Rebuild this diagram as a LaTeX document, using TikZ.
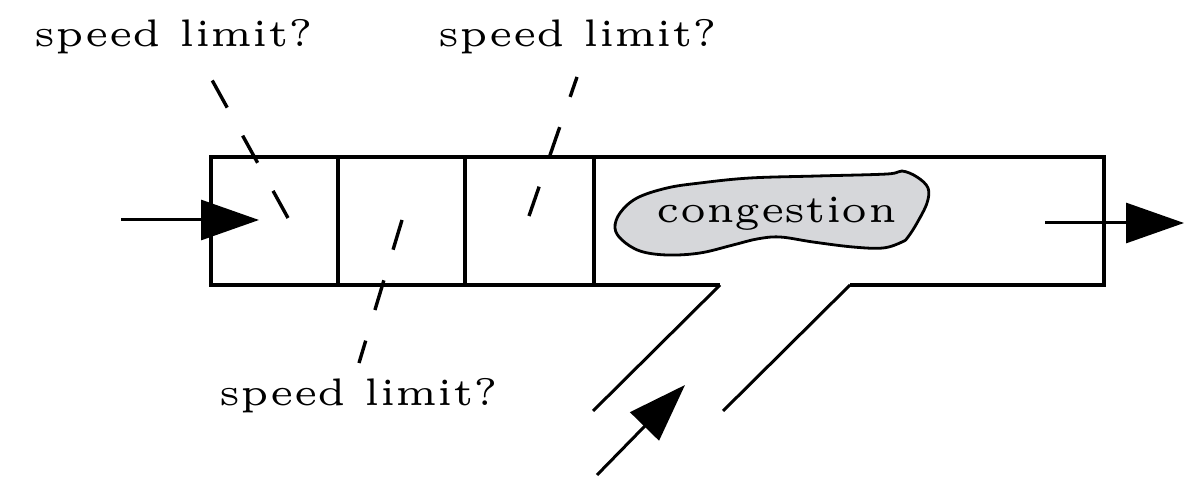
\documentclass[tikz,border=0pt]{standalone}
\usetikzlibrary{arrows.meta}

\definecolor{jamgray}{RGB}{214,215,218}

\begin{document}
\begin{tikzpicture}[
    x=0.5pt, y=-0.5pt, % one unit is one pixel of the sketch
    every node/.style={inner sep=0pt, anchor=base west, font=\fontsize{5}{6}\selectfont, scale=3.84},
    road/.style={line width=2pt, line join=miter},
    ramp/.style={line width=1.5pt},
    flow/.style={line width=1.5pt, -{Triangle[length=29pt, width=20pt]}},
    ask/.style={line width=1.7pt, dash pattern=on 15.5pt off 16pt}
]
\useasboundingbox (0,0) rectangle (1203,501);

% Road
\draw[road] (720,285) -- (211,285) -- (211,157) -- (1104,157) -- (1104,285) -- (850,285);
\foreach \x in {338,465,594}
    \draw[road] (\x,157) -- (\x,285);

% On-ramp
\draw[ramp] (720,285) -- (593,411);
\draw[ramp] (850,285) -- (723,411);

% Congestion
\fill[jamgray, draw=black, line width=1.4pt] plot[smooth cycle, tension=0.6] coordinates {
    (615,228) (620,213) (637,198) (667,188) (700,183) (750,178) (817,176)
    (887,174) (902,171) (917,177) (928,188) (927,203) (917,223) (908,237)
    (902,242) (883,248) (853,247) (813,242) (780,237) (757,239) (733,245)
    (700,253) (667,255) (640,251) (622,240)};
\node (jam) at (655,223) {congestion};

% Labels
\node (lim1) at (33,47) {speed limit?};
\node (lim2) at (437,47) {speed limit?};
\node (lim3) at (218,406) {speed limit?};

% Flow
\coordinate (in1) at (121,220);
\coordinate (in2) at (259,220);
\coordinate (out1) at (1045,223);
\coordinate (out2) at (1184,223);
\coordinate (on1) at (597,475);
\coordinate (on2) at (685,385);
\draw[flow] (in1) -- (in2);
\draw[flow] (out1) -- (out2);
\draw[flow] (on1) -- (on2);

% Questions
\coordinate (c1) at (288,218);
\coordinate (c2) at (402,220);
\coordinate (c3) at (529,216);
\draw[ask] (c1) -- (212,80);
\draw[ask] (c2) -- (359,363);
\draw[ask] (c3) -- (577,77);

\end{tikzpicture}
\end{document}
